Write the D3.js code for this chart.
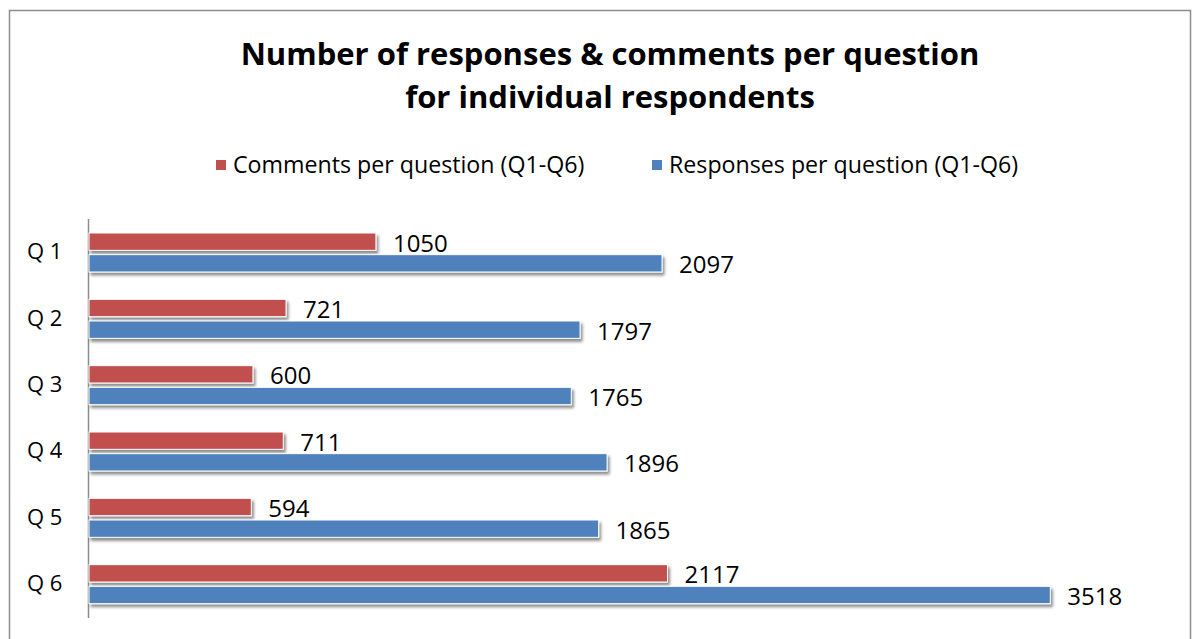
<!DOCTYPE html>
<html><head><meta charset="utf-8">
<script src="https://cdn.jsdelivr.net/npm/d3@7"></script>
<style>body{margin:0;background:#fff}svg{display:block}text{font-family:"Open Sans",sans-serif}</style>
</head><body>
<svg id="c" width="1200" height="639"></svg>
<script>
const categories = ["Q 1","Q 2","Q 3","Q 4","Q 5","Q 6"];
const comments = [1050, 721, 600, 711, 594, 2117];
const responses = [2097, 1797, 1765, 1896, 1865, 3518];
const seriesNames = ["Comments per question (Q1-Q6)", "Responses per question (Q1-Q6)"];
const colors = ["#C0504D", "#4F81BD"];
const titleLines = ["Number of responses & comments per question", "for individual respondents"];

const svg = d3.select("#c");
const defs = svg.append("defs");
const f = defs.append("filter").attr("id","sh").attr("x","-5%").attr("y","-50%").attr("width","110%").attr("height","250%");
f.append("feGaussianBlur").attr("in","SourceAlpha").attr("stdDeviation",1.6);
f.append("feOffset").attr("dx",1.5).attr("dy",2.5).attr("result","ob");
f.append("feComponentTransfer").append("feFuncA").attr("type","linear").attr("slope",0.45);
const m = f.append("feMerge"); m.append("feMergeNode"); m.append("feMergeNode").attr("in","SourceGraphic");

svg.append("rect").attr("x",9.5).attr("y",10.5).attr("width",1181).attr("height",640)
  .attr("fill","#fff").attr("stroke","#8c8c8c").attr("stroke-width",1.5);

svg.append("g").selectAll("text").data(titleLines).join("text")
  .attr("x",610).attr("y",(d,i)=>65+i*43).attr("text-anchor","middle")
  .attr("font-weight","bold").attr("font-size",31).attr("fill","#000").text(d=>d);

// legend
const lx = [216, 652];
const lg = svg.append("g").selectAll("g").data(seriesNames).join("g");
lg.append("rect").attr("x",(d,i)=>lx[i]).attr("y",160).attr("width",10).attr("height",10).attr("fill",(d,i)=>colors[i]);
lg.append("text").attr("x",(d,i)=>lx[i]+17).attr("y",173).attr("font-size",23.2).attr("fill","#000").text(d=>d);

const x = d3.scaleLinear().domain([0,4000]).range([89,1182]);
const y = d3.scaleBand().domain(categories).range([219,617]);
const inner = d3.scaleBand().domain([0,1]).range([14,53]).paddingInner(0.2);

svg.append("line").attr("x1",88.5).attr("x2",88.5).attr("y1",219).attr("y2",618).attr("stroke","#8c8c8c").attr("stroke-width",1.5);

const series = [comments, responses];
series.forEach((vals, s) => {
  const g = svg.append("g");
  g.selectAll("rect").data(vals).join("rect")
    .attr("x", x(0)).attr("y",(d,i)=>y(categories[i])+inner(s))
    .attr("width", d=>x(d)-x(0)).attr("height", inner.bandwidth())
    .attr("fill", colors[s]).attr("stroke","#fff").attr("stroke-width",1)
    .attr("filter","url(#sh)");
  g.selectAll("text").data(vals).join("text")
    .attr("x", d=>x(d)+17).attr("y",(d,i)=>y(categories[i])+inner(s)+inner.bandwidth()/2+10)
    .attr("font-size",24).attr("fill","#000").text(d=>d);
});

svg.append("g").selectAll("text").data(categories).join("text")
  .attr("x",27).attr("y",d=>y(d)+y.bandwidth()/2+7).attr("font-size",22).attr("fill","#000").text(d=>d);
</script>
</body></html>
